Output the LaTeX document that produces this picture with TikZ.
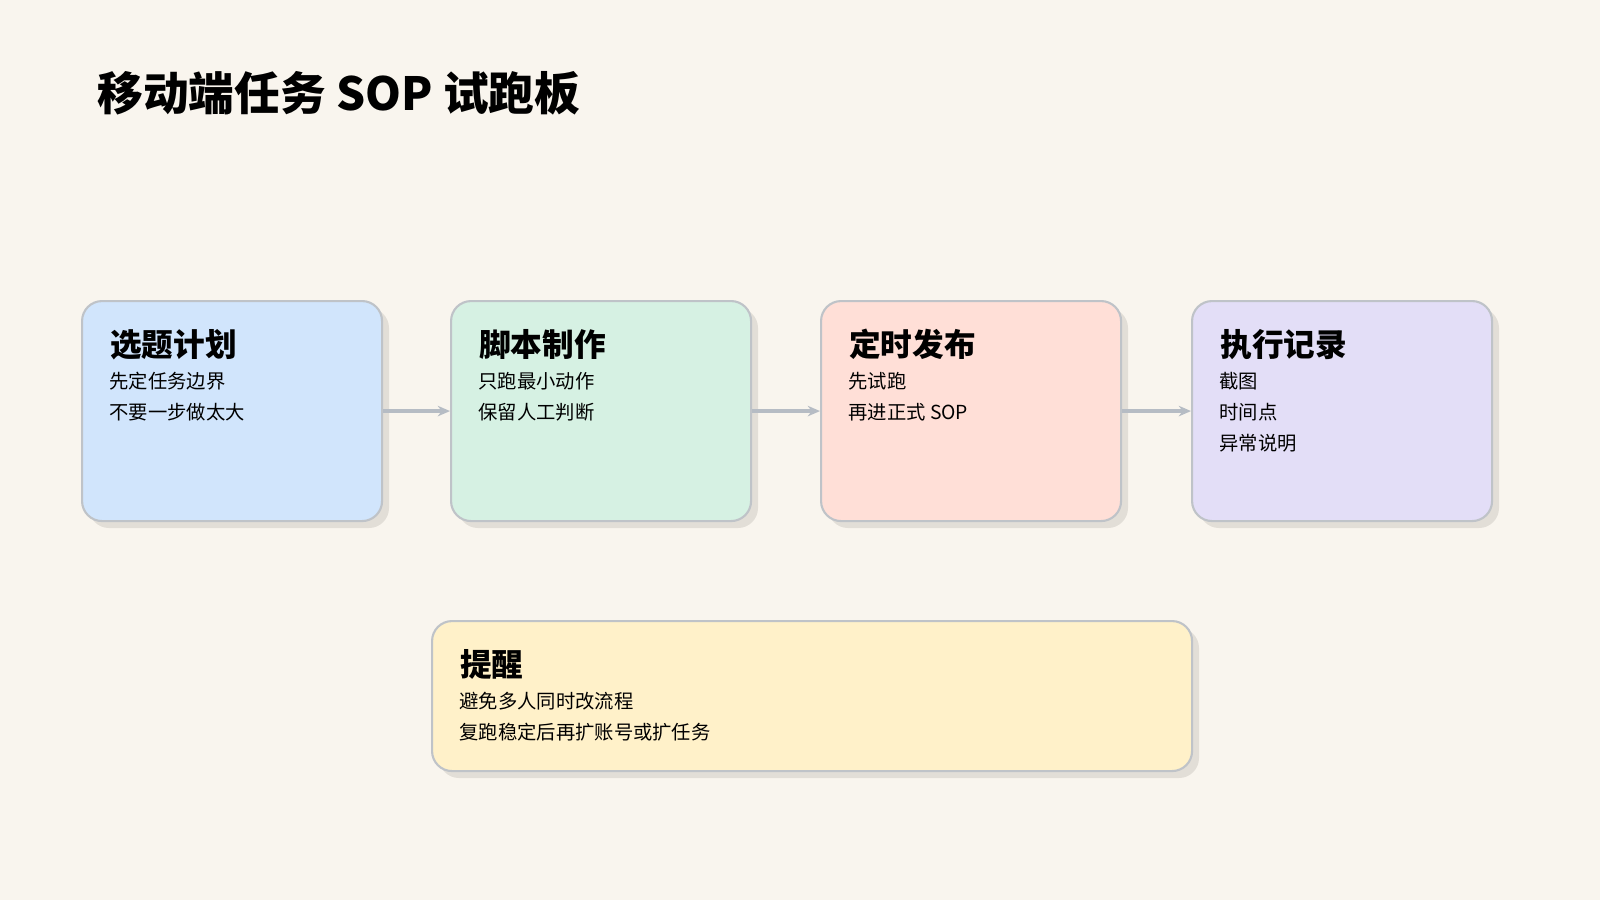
\documentclass[tikz,border=0pt]{standalone}
\usepackage{fontspec}
\setmainfont{Noto Sans CJK SC}
\usetikzlibrary{positioning,calc,arrows.meta}
\definecolor{bgcol}{HTML}{F9F5EE}
\definecolor{shadecol}{HTML}{E2DED7}
\definecolor{edgecol}{HTML}{BFC3C8}
\definecolor{arrcol}{HTML}{B6BCC4}
\definecolor{bluecol}{HTML}{D1E5FC}
\definecolor{greencol}{HTML}{D6F1E3}
\definecolor{pinkcol}{HTML}{FFDFD7}
\definecolor{purplecol}{HTML}{E3DEF7}
\definecolor{yellowcol}{HTML}{FFF1C9}
\tikzset{
  card/.style={draw=edgecol, line width=1.2pt, rounded corners=0.4cm, anchor=north west,
    minimum width=6cm, minimum height=4.4cm, inner sep=0pt},
  cardshade/.style={fill=shadecol, rounded corners=0.4cm},
  head/.style={font=\fontsize{18}{22}\selectfont\bfseries, anchor=base west, inner sep=0pt},
  body/.style={font=\fontsize{11}{17.6}\selectfont, align=left, anchor=north west, inner sep=0pt},
  flow/.style={-{Stealth[length=7pt,width=6pt]}, draw=arrcol, line width=2.2pt}
}
\begin{document}
\begin{tikzpicture}[x=0.2mm,y=-0.2mm]
\useasboundingbox[fill=bgcol] (0,0) rectangle (1600,900);
\node[font=\fontsize{26}{30}\selectfont\bfseries, anchor=base west, inner sep=0pt] (title) at (97,110) {移动端任务 SOP 试跑板};
% shadows
\foreach \x in {81,450,820,1191}
  \fill[cardshade] (\x+8,308) rectangle (\x+308,528);
\fill[cardshade] (439,628) rectangle (1199,778);
% cards
\node[card, fill=bluecol] (plan) at (81,300) {};
\node[card, fill=greencol] (script) at (450,300) {};
\node[card, fill=pinkcol] (publish) at (820,300) {};
\node[card, fill=purplecol] (record) at (1191,300) {};
\node[card, fill=yellowcol, minimum width=15.2cm, minimum height=3cm] (note) at (431,620) {};
% texts
\node[head] (planh) at ($(plan.north west)+(29,56)$) {选题计划};
\node[body] (planb) at ($(plan.north west)+(28,72)$) {先定任务边界\\不要一步做太大};
\node[head] (scripth) at ($(script.north west)+(29,56)$) {脚本制作};
\node[body] (scriptb) at ($(script.north west)+(28,72)$) {只跑最小动作\\保留人工判断};
\node[head] (publishh) at ($(publish.north west)+(29,56)$) {定时发布};
\node[body] (publishb) at ($(publish.north west)+(28,72)$) {先试跑\\再进正式 SOP};
\node[head] (recordh) at ($(record.north west)+(29,56)$) {执行记录};
\node[body] (recordb) at ($(record.north west)+(28,72)$) {截图\\时间点\\异常说明};
\node[head] (noteh) at ($(note.north west)+(29,56)$) {提醒};
\node[body] (noteb) at ($(note.north west)+(28,72)$) {避免多人同时改流程\\复跑稳定后再扩账号或扩任务};
% arrows
\draw[flow] (plan.east) -- (script.west);
\draw[flow] (script.east) -- (publish.west);
\draw[flow] (publish.east) -- (record.west);
\end{tikzpicture}
\end{document}
